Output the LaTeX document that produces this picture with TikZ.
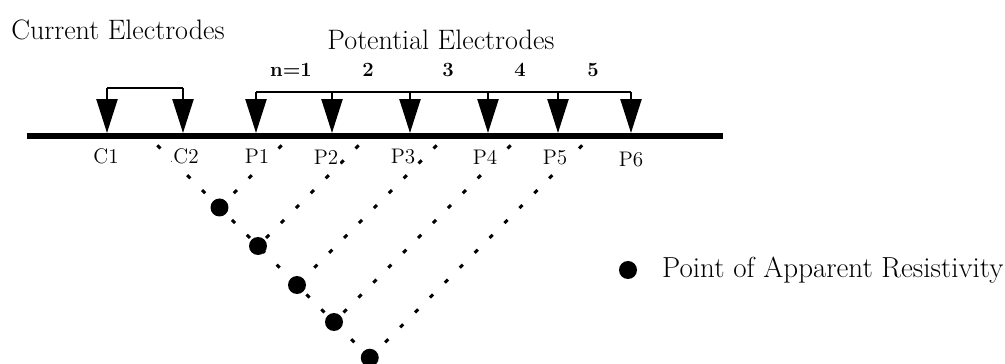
\documentclass[tikz,border=0pt]{standalone}
\usetikzlibrary{arrows.meta, calc}

\begin{document}
\begin{tikzpicture}[
  x=0.02cm, y=-0.02cm,
  every node/.style={font=\fontsize{15}{17}\selectfont},
  ttl/.style={font=\fontsize{16}{18}\selectfont},
  lbl/.style={font=\fontsize{12}{14}\selectfont, fill=white, inner sep=1pt},
  nlbl/.style={font=\fontsize{11.5}{13}\selectfont\bfseries},
  ground/.style={line width=3.4pt},
  bar/.style={line width=1.4pt},
  elec/.style={-{Triangle[length=0.68cm, width=0.42cm]}, line width=1.4pt},
  apres/.style={circle, fill=black, inner sep=0pt, minimum size=0.36cm},
  dots/.style={line width=1.7pt, dash pattern=on 2.5pt off 9.5pt, shorten <=0.35cm}
]
\useasboundingbox (0,0) rectangle (1005,364);

% electrode tips on the ground line
\coordinate (C1) at (107,133);
\coordinate (C2) at (183,133);
\coordinate (P1) at (256,133);
\coordinate (P2) at (332,133);
\coordinate (P3) at (410,133);
\coordinate (P4) at (488,133);
\coordinate (P5) at (558,133);
\coordinate (P6) at (631,133);

% dipole midpoints
\coordinate (mC)  at ($(C1)!0.5!(C2)$);
\coordinate (m12) at ($(P1)!0.5!(P2)$);
\coordinate (m23) at ($(P2)!0.5!(P3)$);
\coordinate (m34) at ($(P3)!0.5!(P4)$);
\coordinate (m45) at ($(P4)!0.5!(P5)$);
\coordinate (m56) at ($(P5)!0.5!(P6)$);

\node[ttl] (curr) at (118,30) {Current Electrodes};
\node[ttl] (pot)  at (441,40) {Potential Electrodes};

\node[nlbl] (n1) at (291,70) {n=1};
\node[nlbl] (n2) at (368,70) {2};
\node[nlbl] (n3) at (448,70) {3};
\node[nlbl] (n4) at (520,70) {4};
\node[nlbl] (n5) at (593,70) {5};

% ground
\draw[ground] (27,136) -- (723,136);

% current pair
\draw[bar] ($(C1)+(0,-45)$) -- ($(C2)+(0,-45)$);
\draw[elec] ($(C1)+(0,-45)$) -- (C1);
\draw[elec] ($(C2)+(0,-45)$) -- (C2);

% potential electrodes
\draw[bar] ($(P1)+(0,-41)$) -- ($(P6)+(0,-41)$);
\draw[elec] ($(P1)+(0,-41)$) -- (P1);
\draw[elec] ($(P2)+(0,-41)$) -- (P2);
\draw[elec] ($(P3)+(0,-41)$) -- (P3);
\draw[elec] ($(P4)+(0,-41)$) -- (P4);
\draw[elec] ($(P5)+(0,-41)$) -- (P5);
\draw[elec] ($(P6)+(0,-41)$) -- (P6);

% apparent resistivity points
\node[apres] (r1) at ($(mC)!0.5!(m12)+(0,{0.5*(294.0-145.0)})$) {};
\node[apres] (r2) at ($(mC)!0.5!(m23)+(0,{0.5*(371.0-145.0)})$) {};
\node[apres] (r3) at ($(mC)!0.5!(m34)+(0,{0.5*(449.0-145.0)})$) {};
\node[apres] (r4) at ($(mC)!0.5!(m45)+(0,{0.5*(523.0-145.0)})$) {};
\node[apres] (r5) at ($(mC)!0.5!(m56)+(0,{0.5*(594.5-145.0)})$) {};

\draw[dots] (mC)  -- (r5.center);
\draw[dots] (m12) -- (r1.center);
\draw[dots] (m23) -- (r2.center);
\draw[dots] (m34) -- (r3.center);
\draw[dots] (m45) -- (r4.center);
\draw[dots] (m56) -- (r5.center);

\node[lbl] (lC1) at (106,156) {C1};
\node[lbl] (lC2) at (186,156) {C2};
\node[lbl] (lP1) at (257,156) {P1};
\node[lbl] (lP2) at (326,157) {P2};
\node[lbl] (lP3) at (403,157) {P3};
\node[lbl] (lP4) at (485,157) {P4};
\node[lbl] (lP5) at (555,158) {P5};
\node[lbl] (lP6) at (631,160) {P6};

% legend
\node[apres] (key) at (628,270) {};
\node[font=\fontsize{16.5}{19}\selectfont, anchor=west] (keytxt) at (656,270) {Point of Apparent Resistivity};
\end{tikzpicture}
\end{document}
